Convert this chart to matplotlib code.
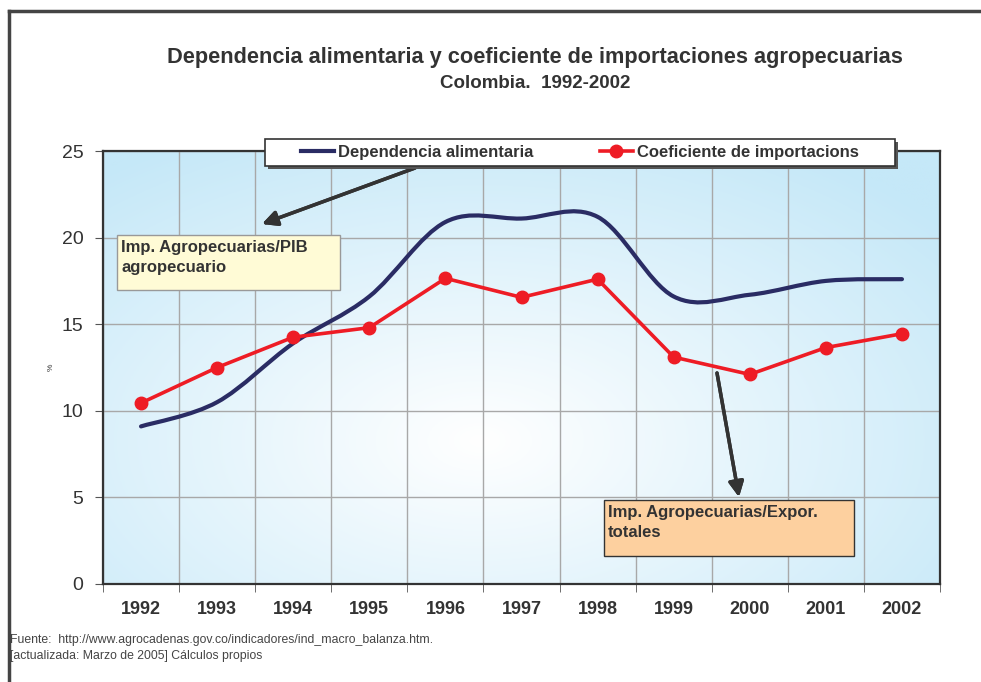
import numpy as np
import matplotlib
matplotlib.use('Agg')
import matplotlib.pyplot as plt
from matplotlib.path import Path
from matplotlib.patches import PathPatch, Rectangle
from matplotlib.lines import Line2D

plt.rcParams['font.family'] = ['Liberation Sans', 'DejaVu Sans']

years = ['1992', '1993', '1994', '1995', '1996', '1997', '1998', '1999', '2000', '2001', '2002']
dependencia = [9.1, 10.5, 13.9, 16.6, 20.9, 21.1, 21.2, 16.6, 16.7, 17.5, 17.6]
coeficiente = [10.45, 12.5, 14.25, 14.8, 17.65, 16.55, 17.6, 13.1, 12.1, 13.65, 14.45]

W, H = 981, 682
fig = plt.figure(figsize=(W / 100, H / 100), dpi=100)


def fx(x):
    return x / W


def fy(y):
    return 1 - y / H


ax = fig.add_axes([fx(103), fy(584), fx(940) - fx(103), fy(151) - fy(584)])

# radial background
gx, gy = np.meshgrid(np.linspace(0, 1, 300), np.linspace(0, 1, 300))
d = np.sqrt(((gx - 0.45) / 0.72) ** 2 + ((gy - 0.33) / 0.8) ** 2)
d = np.clip(d, 0, 1)
edge = np.array([197, 232, 248]) / 255
img = 1 - d[..., None] * (1 - edge)
ax.imshow(img, extent=(0, 1, 0, 1), transform=ax.transAxes, origin='lower',
          aspect='auto', zorder=0)

x = np.arange(len(years))

# smoothed line (Excel style bezier through the points)
pts = np.column_stack([x, dependencia]).astype(float)
ext = np.vstack([pts[0], pts, pts[-1]])
verts = [tuple(pts[0])]
codes = [Path.MOVETO]
for i in range(1, len(ext) - 2):
    p0, p1, p2, p3 = ext[i - 1], ext[i], ext[i + 1], ext[i + 2]
    c1 = p1 + (p2 - p0) / 6
    c2 = p2 - (p3 - p1) / 6
    verts += [tuple(c1), tuple(c2), tuple(p2)]
    codes += [Path.CURVE4] * 3
ax.add_patch(PathPatch(Path(verts, codes), fill=False, edgecolor='#2a2c64',
                       lw=3, zorder=3, capstyle='round'))

ax.plot(x, coeficiente, color='#ee1c25', lw=2.6, marker='o', ms=9, zorder=4)

ax.set_xlim(-0.5, len(years) - 0.5)
ax.set_ylim(0, 25)
ax.set_yticks([0, 5, 10, 15, 20, 25])
ax.set_xticks(x)
ax.set_xticklabels(years, fontweight='bold', fontsize=13, color='#333333')
ax.set_xticks(np.arange(-0.5, len(years)), minor=True)
ax.tick_params(axis='x', which='major', length=0, pad=12)
ax.tick_params(axis='x', which='minor', length=6, color='#555555', direction='out')
ax.tick_params(axis='y', labelsize=14, length=6, color='#555555', labelcolor='#333333', pad=8)
ax.grid(True, which='minor', axis='x', color='#a8a8a8', lw=1, zorder=1)
ax.grid(True, which='major', axis='y', color='#a8a8a8', lw=1, zorder=1)
ax.set_axisbelow(False)
for s in ax.spines.values():
    s.set_color('#333333')
    s.set_linewidth(1.6)
    s.set_zorder(5)
ax.set_ylabel('%', fontsize=6, color='#333333', labelpad=5)

# titles
fig.text(fx(535), fy(58), 'Dependencia alimentaria y coeficiente de importaciones agropecuarias',
         ha='center', va='center', fontsize=15.7, fontweight='bold', color='#333333')
fig.text(fx(535), fy(84), 'Colombia.  1992-2002', ha='center', va='center',
         fontsize=13.5, fontweight='bold', color='#333333')

# legend box with shadow
fig.add_artist(Rectangle((fx(268), fy(169)), fx(895) - fx(265), fy(139) - fy(166),
                         transform=fig.transFigure, facecolor='#555555',
                         edgecolor='none', zorder=6))
fig.add_artist(Rectangle((fx(265), fy(166)), fx(895) - fx(265), fy(139) - fy(166),
                         transform=fig.transFigure, facecolor='white',
                         edgecolor='#333333', lw=1.2, zorder=6.5))
h1 = Line2D([], [], color='#2a2c64', lw=3)
h2 = Line2D([], [], color='#ee1c25', lw=2.6, marker='o', ms=9)
leg = fig.legend([h1, h2], ['Dependencia alimentaria', 'Coeficiente de importacions'],
                 bbox_to_anchor=(fx(580), fy(152.5)), loc='center', ncol=2,
                 frameon=False, prop={'weight': 'bold', 'size': 12},
                 handlelength=1.95, handletextpad=0.25, columnspacing=4.0,
                 borderpad=0.1)
leg.set_zorder(7)
for t in leg.get_texts():
    t.set_color('#333333')

# annotation boxes
fig.add_artist(Rectangle((fx(117), fy(290)), fx(340) - fx(117), fy(235) - fy(290),
                         transform=fig.transFigure, facecolor='#fffbd6',
                         edgecolor='#999999', lw=1, zorder=6))
fig.text(fx(121), fy(240), 'Imp. Agropecuarias/PIB\nagropecuario', ha='left', va='top',
         fontsize=12, fontweight='bold', color='#333333', zorder=7, linespacing=1.45)

fig.add_artist(Rectangle((fx(604), fy(556)), fx(854) - fx(604), fy(500) - fy(556),
                         transform=fig.transFigure, facecolor='#fdd09f',
                         edgecolor='#333333', lw=1, zorder=6))
fig.text(fx(608), fy(505), 'Imp. Agropecuarias/Expor.\ntotales', ha='left', va='top',
         fontsize=12, fontweight='bold', color='#333333', zorder=7, linespacing=1.45)

# arrows
arrow = dict(arrowstyle='-|>,head_length=0.9,head_width=0.45', color='#333333', lw=2.5,
             shrinkA=0, shrinkB=0)
fig.add_artist(plt.annotate('', xy=(fx(262), fy(224)), xycoords='figure fraction',
                            xytext=(fx(415), fy(168)), textcoords='figure fraction',
                            arrowprops=arrow))
fig.add_artist(plt.annotate('', xy=(fx(739), fy(497)), xycoords='figure fraction',
                            xytext=(fx(717), fy(373)), textcoords='figure fraction',
                            arrowprops=arrow))

# footnote
fig.text(fx(10), fy(640), 'Fuente:  http://www.agrocadenas.gov.co/indicadores/ind_macro_balanza.htm.',
         ha='left', va='center', fontsize=8.8, color='#444444')
fig.text(fx(10), fy(656), '[actualizada: Marzo de 2005] Cálculos propios',
         ha='left', va='center', fontsize=8.8, color='#444444')

# outer frame
fig.add_artist(Line2D([fx(9), 1], [fy(11), fy(11)], color='#444444', lw=2.5))
fig.add_artist(Line2D([fx(9), fx(9)], [fy(11), 0], color='#444444', lw=2.5))

fig.savefig('out.png', dpi=100)
